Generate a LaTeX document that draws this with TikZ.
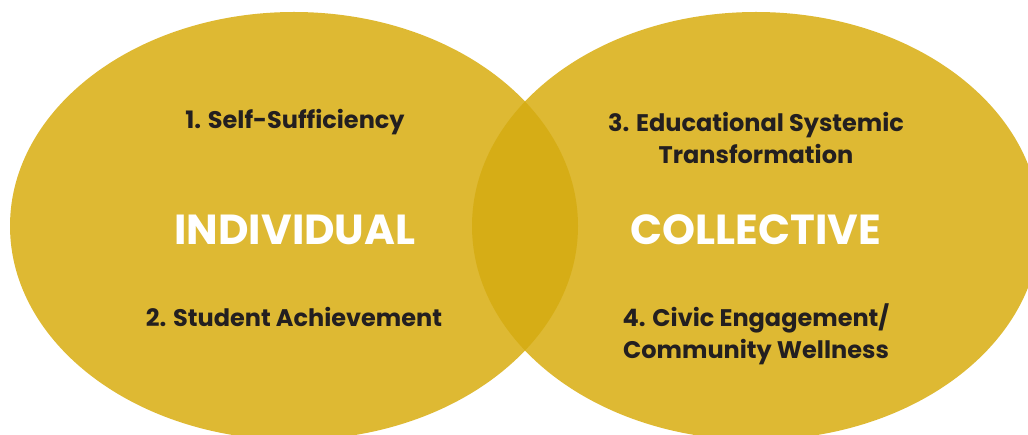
\documentclass[tikz,border=0pt]{standalone}
\usepackage{xcolor}
\usepackage{fontspec}
\setmainfont{Poppins}
\usepackage{tikz}

\definecolor{gold}{HTML}{DEB933}
\definecolor{golddark}{HTML}{D6AD16}
\definecolor{ink}{HTML}{231F20}

\begin{document}
\begin{tikzpicture}[x=1pt, y=1pt,
    goal/.style={text=ink, align=center, font=\fontsize{24}{32}\selectfont\bfseries},
    title/.style={text=white, font=\fontsize{42}{46}\selectfont\bfseries}]
          \useasboundingbox (0,0) rectangle (1028,434);
          \clip (0,0) rectangle (1028,434);

          \fill[gold] (294,208) ellipse (284 and 214);
          \fill[gold] (756,208) ellipse (284 and 214);
          \begin{scope}
            \clip (294,208) ellipse (284 and 214);
            \fill[golddark] (756,208) ellipse (284 and 214);
          \end{scope}

          \node[title] (indiv) at (295,204) {INDIVIDUAL};
          \node[title] (coll) at (756,204) {COLLECTIVE};

          \node[goal] (g1) at (295,312) {1. Self-Sufficiency};
          \node[goal] (g2) at (294,117) {2. Student Achievement};
          \node[goal] (g3) at (756,296) {3. Educational Systemic\\Transformation};
          \node[goal] (g4) at (756,100) {4. Civic Engagement/\\Community Wellness};
        \end{tikzpicture}
\end{document}
